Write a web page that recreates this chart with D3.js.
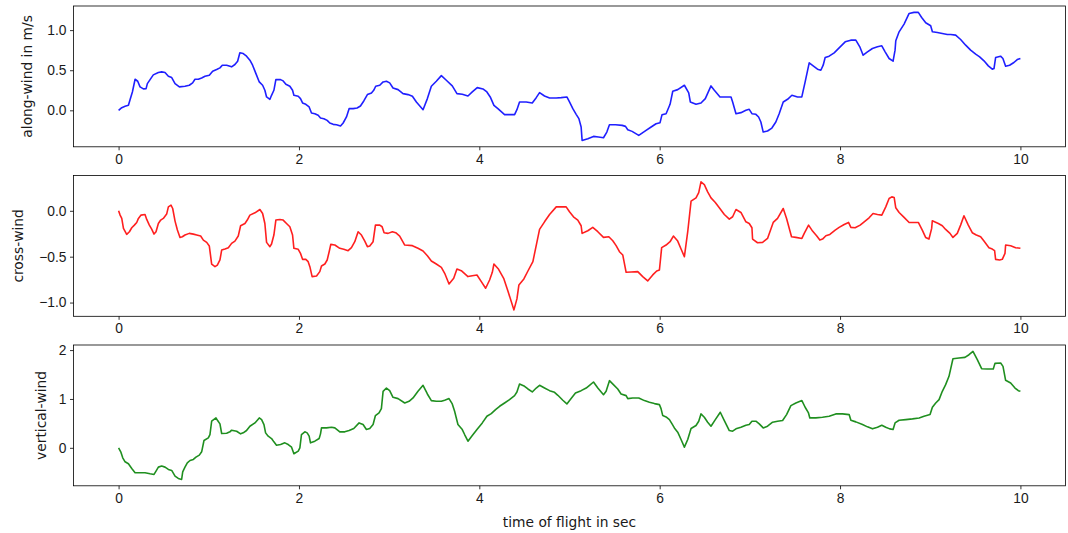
<!DOCTYPE html>
<html>
<head>
<meta charset="utf-8">
<script src="https://cdn.jsdelivr.net/npm/d3@7"></script>
<style>
  body { margin: 0; background: #fff; }
  svg { display: block; font-family: "DejaVu Sans", sans-serif; }
  .tick text { font-size: 13.8px; fill: #1a1a1a; }
  .tick line { stroke: #000; stroke-width: 0.8; }
  .domain { display: none; }
</style>
</head>
<body>
<svg id="chart" width="1068" height="533"></svg>
<script>
// along-wind (m/s)
var alongT = [0,0.035,0.072,0.109,0.127,0.153,0.183,0.212,0.238,0.275,0.305,0.319,0.349,0.385,0.441,0.478,0.515,0.552,0.589,0.626,0.674,0.736,0.784,0.821,0.847,0.884,0.921,0.958,1.006,1.043,1.087,1.124,1.15,1.198,1.253,1.29,1.32,1.345,1.382,1.419,1.456,1.486,1.523,1.56,1.597,1.622,1.641,1.678,1.696,1.722,1.744,1.796,1.825,1.855,1.899,1.929,1.944,1.992,2.017,2.04,2.076,2.113,2.139,2.176,2.213,2.239,2.276,2.313,2.342,2.379,2.416,2.461,2.49,2.527,2.556,2.601,2.645,2.682,2.719,2.759,2.804,2.829,2.851,2.896,2.933,2.97,3.006,3.043,3.099,
  3.154,3.21,3.258,3.302,3.376,3.424,3.468,3.523,3.579,3.634,3.7,3.752,3.811,3.874,3.922,3.977,4.04,4.084,4.121,4.162,4.206,4.28,4.335,4.391,4.417,4.446,4.52,4.587,4.631,4.668,4.723,4.779,4.853,4.908,4.971,5.0,5.037,5.074,5.104,5.129,5.14,5.203,5.266,5.321,5.377,5.414,5.443,5.51,5.584,5.621,5.646,5.694,5.768,5.849,5.905,5.96,6.004,6.026,6.071,6.115,6.145,6.2,6.274,6.322,6.34,6.403,6.458,6.506,6.569,6.606,6.669,6.735,6.791,
  6.809,6.846,6.901,6.956,6.993,7.023,7.067,7.097,7.122,7.148,7.196,7.244,7.288,7.325,7.37,7.418,7.466,7.529,7.576,7.613,7.658,7.702,7.75,7.787,7.813,7.835,7.879,7.935,7.99,8.057,8.119,8.175,8.219,8.256,8.304,8.359,8.415,8.463,8.5,8.544,8.588,8.61,8.618,8.655,8.71,8.766,8.82,8.868,8.905,8.95,9.005,9.024,9.079,9.134,9.19,9.227,9.282,9.337,9.393,9.448,9.504,9.548,9.596,9.644,9.688,9.707,9.725,9.78,9.806,9.836,9.88,9.928,9.965,10.0];
var alongV = [0,0.033,0.05,0.0625,0.133,0.229,0.3875,0.3625,0.292,0.267,0.271,0.333,0.383,0.442,0.471,0.479,0.471,0.425,0.408,0.333,0.292,0.30,0.3125,0.342,0.3875,0.3875,0.404,0.425,0.4375,0.4875,0.508,0.529,0.5625,0.5625,0.542,0.571,0.6125,0.717,0.708,0.675,0.625,0.5625,0.458,0.354,0.3125,0.25,0.167,0.1375,0.1875,0.25,0.383,0.383,0.367,0.325,0.30,0.25,0.1875,0.175,0.146,0.092,0.075,0.042,-0.033,-0.042,-0.0625,-0.096,-0.104,-0.125,-0.158,-0.175,-0.179,-0.196,-0.158,-0.083,0.021,0.021,0.029,0.054,0.117,0.196,0.217,0.25,0.30,0.3125,0.354,0.3625,0.342,0.279,0.258,
  0.208,0.196,0.175,0.104,0.008,0.146,0.30,0.3625,0.433,0.375,0.304,0.208,0.20,0.179,0.229,0.283,0.267,0.229,0.167,0.0625,0.021,-0.054,-0.054,-0.054,0.008,0.104,0.104,0.092,0.158,0.221,0.179,0.154,0.154,0.158,0.167,0.104,0.021,-0.05,-0.104,-0.208,-0.375,-0.354,-0.325,-0.333,-0.342,-0.271,-0.179,-0.179,-0.1875,-0.2,-0.242,-0.2625,-0.3125,-0.25,-0.208,-0.167,-0.154,-0.054,-0.042,0.075,0.2375,0.258,0.3125,0.217,0.104,0.075,0.092,0.146,0.304,0.25,0.167,0.167,0.167,
  0.104,-0.042,-0.029,0.0,0.0125,-0.042,-0.05,-0.083,-0.146,-0.271,-0.258,-0.221,-0.146,-0.042,0.104,0.1375,0.1875,0.167,0.167,0.354,0.592,0.554,0.5125,0.50,0.5625,0.658,0.675,0.717,0.779,0.854,0.875,0.875,0.792,0.6875,0.729,0.771,0.792,0.804,0.729,0.646,0.6125,0.75,0.867,0.979,1.075,1.208,1.221,1.221,1.158,1.092,1.054,0.979,0.971,0.958,0.946,0.946,0.9375,0.883,0.8125,0.75,0.70,0.667,0.617,0.554,0.5125,0.521,0.658,0.675,0.646,0.55,0.5625,0.596,0.633,0.646];

// cross-wind
var crossT = [0,0.017,0.035,0.054,0.09,0.12,0.146,0.175,0.201,0.22,0.249,0.293,0.312,0.341,0.367,0.393,0.415,0.441,0.467,0.496,0.533,0.552,0.581,0.6,0.626,0.652,0.681,0.707,0.736,0.784,0.829,0.866,0.91,0.94,0.977,1.006,1.032,1.069,1.095,1.124,1.143,1.18,1.217,1.253,1.29,1.327,1.353,1.401,1.427,1.456,1.512,1.567,1.597,1.622,1.641,1.678,1.696,1.722,1.744,1.788,1.825,1.862,1.899,1.929,1.944,1.992,2.017,2.04,2.076,2.102,2.121,2.146,2.195,2.231,2.25,2.287,2.313,2.335,2.353,2.398,2.453,2.497,2.545,2.582,2.619,2.656,2.693,2.73,2.759,2.785,2.822,2.848,2.896,2.922,2.944,2.988,3.036,3.073,3.117,
  3.173,3.258,3.32,3.376,3.424,3.468,3.523,3.579,3.616,3.664,3.716,3.752,3.8,3.874,3.922,3.974,4.022,4.07,4.114,4.144,4.162,4.214,4.27,4.317,4.384,4.417,4.439,4.494,4.539,4.594,4.668,4.723,4.779,4.853,4.908,4.963,5.0,5.044,5.092,5.129,5.14,5.203,5.258,5.314,5.377,5.436,5.48,5.517,5.554,5.591,5.628,5.683,5.757,5.812,5.867,5.923,5.967,5.997,6.022,6.071,6.115,6.152,6.2,6.237,6.274,6.311,6.348,6.403,6.433,6.458,6.495,6.532,6.569,6.617,6.661,6.717,
  6.772,6.809,6.846,6.901,6.956,6.993,7.023,7.03,7.085,7.141,7.196,7.259,7.307,7.37,7.407,7.462,7.51,7.577,7.603,7.651,7.695,7.74,7.776,7.806,7.843,7.887,7.946,7.99,8.046,8.094,8.12,8.167,8.223,8.278,8.322,8.366,8.415,8.463,8.507,8.544,8.574,8.6,8.618,8.655,8.71,8.766,8.82,8.868,8.912,8.949,8.986,9.016,9.023,9.09,9.134,9.171,9.219,9.252,9.3,9.337,9.374,9.422,9.466,9.511,9.559,9.596,9.651,9.688,9.714,9.725,9.77,9.799,9.829,9.836,9.892,9.947,10.0];
var crossV = [0,-0.047,-0.083,-0.192,-0.257,-0.228,-0.185,-0.156,-0.127,-0.083,-0.047,-0.04,-0.094,-0.156,-0.2,-0.254,-0.228,-0.138,-0.101,-0.083,-0.036,0.043,0.062,0.025,-0.112,-0.21,-0.29,-0.283,-0.264,-0.246,-0.254,-0.264,-0.275,-0.319,-0.344,-0.384,-0.58,-0.609,-0.591,-0.536,-0.428,-0.417,-0.402,-0.355,-0.33,-0.275,-0.163,-0.138,-0.101,-0.047,-0.022,0.0145,-0.029,-0.138,-0.344,-0.391,-0.362,-0.264,-0.101,-0.094,-0.101,-0.138,-0.174,-0.264,-0.409,-0.42,-0.464,-0.529,-0.529,-0.554,-0.609,-0.717,-0.71,-0.663,-0.601,-0.58,-0.536,-0.446,-0.366,-0.373,-0.409,-0.42,-0.435,-0.402,-0.337,-0.228,-0.264,-0.33,-0.391,-0.384,-0.337,-0.156,-0.156,-0.174,-0.239,-0.246,-0.228,-0.239,-0.275,
  -0.373,-0.38,-0.409,-0.438,-0.489,-0.547,-0.58,-0.616,-0.681,-0.797,-0.736,-0.634,-0.652,-0.717,-0.707,-0.699,-0.772,-0.844,-0.754,-0.67,-0.58,-0.638,-0.736,-0.873,-1.08,-0.96,-0.808,-0.743,-0.656,-0.554,-0.203,-0.12,-0.04,0.043,0.043,0.043,-0.011,-0.065,-0.101,-0.163,-0.246,-0.217,-0.181,-0.228,-0.29,-0.283,-0.326,-0.38,-0.446,-0.482,-0.67,-0.667,-0.663,-0.717,-0.764,-0.699,-0.656,-0.645,-0.402,-0.373,-0.337,-0.275,-0.33,-0.417,-0.5,-0.228,0.105,0.141,0.199,0.315,0.286,0.207,0.141,0.091,0.033,-0.04,
  -0.091,-0.065,0.0145,-0.018,-0.12,-0.138,-0.185,-0.308,-0.348,-0.344,-0.301,-0.127,-0.083,0.025,-0.083,-0.283,-0.29,-0.301,-0.246,-0.156,-0.221,-0.272,-0.319,-0.308,-0.272,-0.257,-0.21,-0.181,-0.149,-0.127,-0.181,-0.185,-0.156,-0.112,-0.076,-0.029,-0.04,-0.047,0.043,0.134,0.152,0.145,0.033,-0.018,-0.072,-0.127,-0.127,-0.127,-0.21,-0.29,-0.308,-0.192,-0.109,-0.138,-0.163,-0.203,-0.246,-0.29,-0.246,-0.156,-0.054,-0.156,-0.239,-0.264,-0.283,-0.33,-0.402,-0.417,-0.435,-0.529,-0.536,-0.529,-0.464,-0.373,-0.38,-0.402,-0.409];

// vertical-wind
var vertT = [0,0.024,0.046,0.072,0.109,0.146,0.183,0.238,0.293,0.349,0.393,0.415,0.441,0.478,0.515,0.552,0.589,0.626,0.662,0.699,0.711,0.736,0.762,0.792,0.829,0.858,0.895,0.921,0.947,0.995,1.013,1.032,1.08,1.098,1.124,1.143,1.198,1.235,1.253,1.309,1.353,1.382,1.419,1.456,1.512,1.56,1.586,1.612,1.63,1.659,1.696,1.722,1.751,1.796,1.844,1.881,1.918,1.944,1.992,2.01,2.028,2.065,2.091,2.113,2.128,2.176,2.224,2.239,2.25,2.305,2.361,2.398,2.453,2.508,2.556,2.608,2.667,2.711,2.748,2.785,2.822,2.848,2.888,2.914,2.933,2.97,3.006,3.043,3.099,
  3.173,3.221,3.265,3.32,3.376,3.424,3.468,3.523,3.579,3.616,3.664,3.7,3.726,3.763,3.811,3.837,3.874,3.922,3.974,4.033,4.084,4.132,4.18,4.225,4.28,4.335,4.391,4.417,4.446,4.502,4.539,4.587,4.631,4.668,4.723,4.779,4.834,4.871,4.926,4.971,5.018,5.066,5.129,5.185,5.222,5.266,5.314,5.377,5.406,5.443,5.487,5.535,5.572,5.628,5.646,5.701,5.768,5.831,5.886,5.942,5.997,6.015,6.034,6.071,6.108,6.137,6.163,6.2,6.237,6.274,6.311,6.348,6.403,6.433,6.458,6.495,6.532,6.569,6.617,6.672,6.717,
  6.772,6.809,6.846,6.901,6.956,6.993,7.023,7.067,7.104,7.148,7.196,7.252,7.307,7.363,7.407,7.455,7.51,7.577,7.613,7.65,7.665,7.731,7.805,7.879,7.953,8.027,8.101,8.12,8.175,8.249,8.304,8.36,8.415,8.463,8.507,8.551,8.588,8.61,8.655,8.729,8.803,8.877,8.931,8.998,9.024,9.061,9.098,9.134,9.171,9.208,9.252,9.319,9.385,9.43,9.474,9.522,9.57,9.633,9.699,9.718,9.781,9.807,9.836,9.892,9.94,9.977,10.0];
var vertV = [0,-0.082,-0.204,-0.286,-0.327,-0.422,-0.51,-0.51,-0.51,-0.531,-0.544,-0.476,-0.395,-0.374,-0.395,-0.442,-0.463,-0.578,-0.626,-0.646,-0.49,-0.395,-0.306,-0.259,-0.238,-0.19,-0.15,-0.082,0.15,0.204,0.272,0.544,0.612,0.558,0.49,0.293,0.299,0.327,0.361,0.34,0.286,0.306,0.354,0.442,0.51,0.612,0.578,0.476,0.306,0.238,0.19,0.122,0.054,0.068,0.102,0.068,0.014,-0.122,-0.068,0.0,0.272,0.327,0.306,0.238,0.102,0.136,0.19,0.286,0.408,0.408,0.422,0.408,0.327,0.327,0.354,0.395,0.51,0.476,0.374,0.395,0.476,0.66,0.714,0.803,1.156,1.224,1.17,1.034,1.007,
  0.918,0.952,1.02,1.156,1.279,1.102,0.966,0.952,0.952,0.973,1.007,0.898,0.748,0.476,0.374,0.272,0.136,0.252,0.374,0.51,0.646,0.701,0.782,0.85,0.918,0.986,1.068,1.143,1.306,1.259,1.204,1.143,1.224,1.279,1.224,1.17,1.136,1.075,0.973,0.898,1.007,1.122,1.17,1.224,1.279,1.347,1.224,1.088,1.156,1.374,1.293,1.204,1.102,1.068,1.007,1.02,1.02,0.966,0.932,0.905,0.884,0.803,0.66,0.633,0.578,0.49,0.408,0.32,0.17,0.014,0.17,0.395,0.456,0.544,0.694,0.626,0.524,0.442,0.578,0.728,0.558,
  0.354,0.34,0.388,0.422,0.463,0.476,0.544,0.544,0.49,0.408,0.442,0.524,0.544,0.558,0.68,0.864,0.918,0.966,0.83,0.714,0.612,0.612,0.626,0.646,0.694,0.694,0.68,0.565,0.531,0.476,0.429,0.388,0.422,0.463,0.422,0.388,0.374,0.51,0.565,0.578,0.592,0.612,0.646,0.68,0.83,0.918,0.986,1.156,1.293,1.463,1.823,1.837,1.85,1.905,1.973,1.803,1.619,1.612,1.612,1.728,1.735,1.667,1.381,1.327,1.224,1.17,1.156];

var xTicks = [0, 2, 4, 6, 8, 10];
var yLabels = ['along-wind in m/s', 'cross-wind', 'vertical-wind'];
var yTicks = [[0, 0.5, 1.0], [-1.0, -0.5, 0.0], [0, 1, 2]];
var yFormats = ['.1f', '.1f', 'd'];
var colours = ['#0000ff', '#ff0000', '#008000'];

var svg = d3.select('#chart');
var left = 73.5, right = 1065.5, ph = 140.8;
var tops = [6, 175.5, 345];
// baseline x of the rotated y labels (matplotlib pads them off the tick labels)
var labelX = [32, 22.5, 46];

var series = [
  {t: alongT, v: alongV},
  {t: crossT, v: crossV},
  {t: vertT, v: vertV}
];

var x = d3.scaleLinear().domain([-0.5, 10.5]).range([left, right]);

series.forEach(function(s, i) {
  var ext = d3.extent(s.v), pad = (ext[1] - ext[0]) * 0.05;
  var y = d3.scaleLinear().domain([ext[0] - pad, ext[1] + pad])
    .range([tops[i] + ph, tops[i]]);
  var g = svg.append('g');

  var pts = s.t.map(function(t, j) { return [t, s.v[j]]; });
  g.append('path').datum(pts)
    .attr('fill', 'none').attr('stroke', colours[i]).attr('stroke-opacity', 0.88)
    .attr('stroke-width', 1.6).attr('stroke-linejoin', 'round')
    .attr('d', d3.line().x(function(d) { return x(d[0]); })
                        .y(function(d) { return y(d[1]); }));

  g.append('g').attr('transform', 'translate(0,' + (tops[i] + ph) + ')')
    .call(d3.axisBottom(x).tickValues(xTicks).tickSize(3.5).tickPadding(3.5)
      .tickFormat(d3.format('d')))
    .selectAll('text').attr('font-family', null);

  g.append('g').attr('transform', 'translate(' + left + ',0)')
    .call(d3.axisLeft(y).tickValues(yTicks[i]).tickSize(3.5).tickPadding(3.5)
      .tickFormat(d3.format(yFormats[i])))
    .selectAll('text').attr('font-family', null);

  g.append('rect').attr('x', left).attr('y', tops[i])
    .attr('width', right - left).attr('height', ph)
    .attr('fill', 'none').attr('stroke', '#000').attr('stroke-width', 0.8);

  g.append('text')
    .attr('transform', 'translate(' + labelX[i] + ',' + (tops[i] + ph / 2) + ') rotate(-90)')
    .attr('text-anchor', 'middle').style('font-size', '13.8px').attr('fill', '#1a1a1a')
    .text(yLabels[i]);
});

svg.append('text').attr('x', (left + right) / 2).attr('y', 527)
  .attr('text-anchor', 'middle').style('font-size', '13.8px').attr('fill', '#1a1a1a')
  .text('time of flight in sec');
</script>
</body>
</html>
